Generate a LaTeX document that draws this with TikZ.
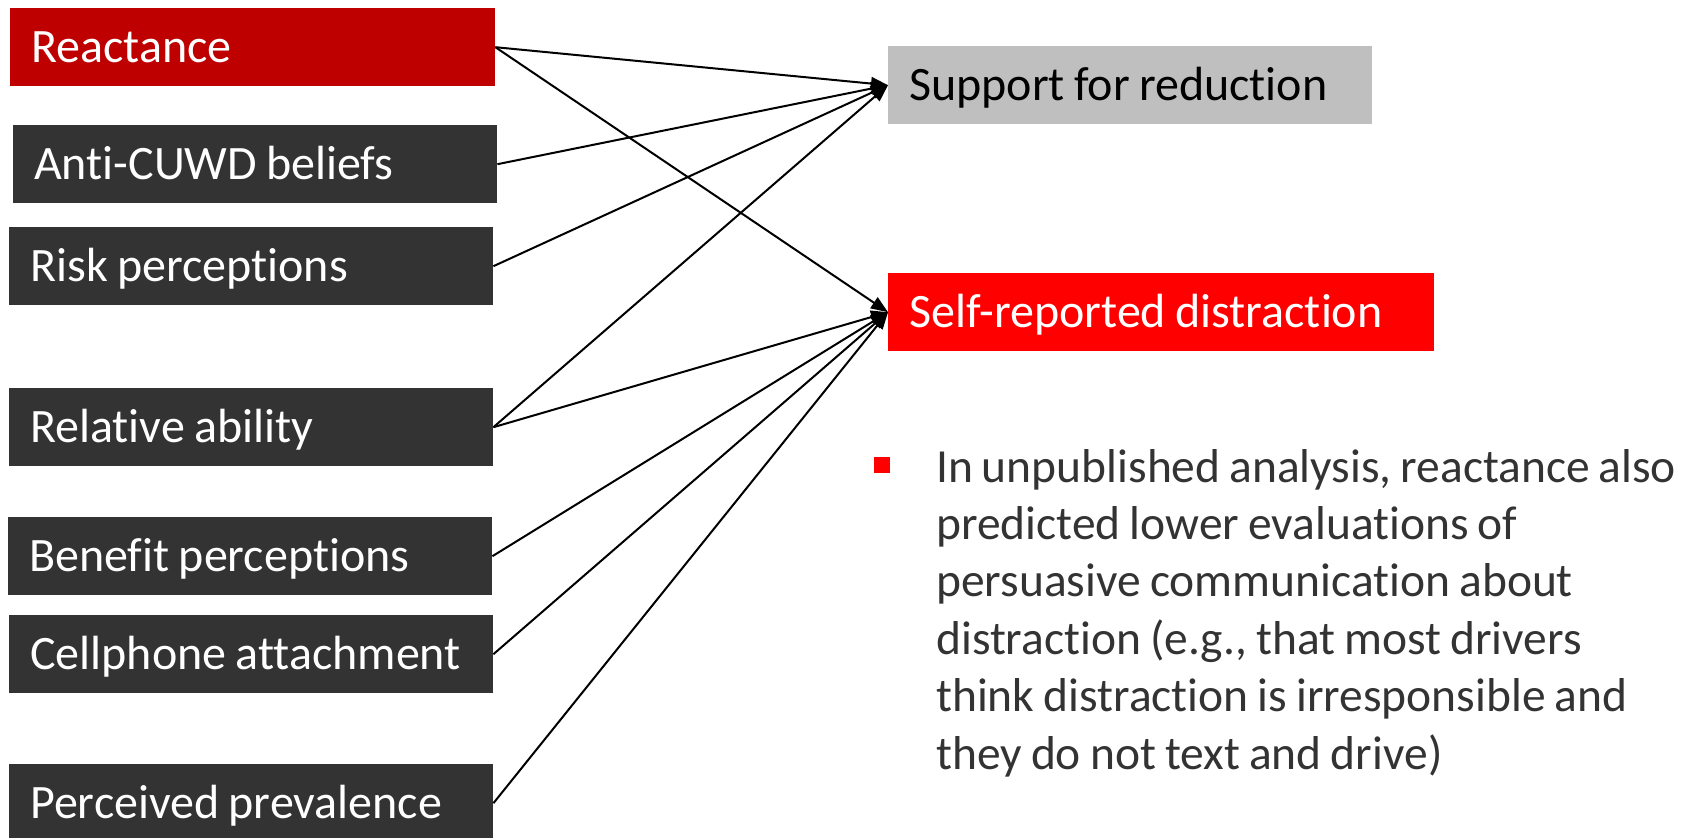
\documentclass[tikz,border=0pt]{standalone}
\usepackage{fontspec}
\setmainfont[Ligatures={NoCommon}, WordSpace=0.85]{Carlito}
\usetikzlibrary{arrows.meta}
\definecolor{reactred}{HTML}{BE0000}
\definecolor{darkbox}{HTML}{333333}
\definecolor{greybox}{HTML}{BFBFBF}
\definecolor{brightred}{HTML}{FF0000}
\definecolor{bodytext}{HTML}{333333}
\newcommand{\lblbox}[2]{\makebox[#1][l]{#2}}
\tikzset{
  lbox/.style={anchor=north west, inner xsep=21pt, inner ysep=0pt, minimum height=78pt,
    text height=31pt, text depth=0pt, font=\fontsize{48}{52}\selectfont},
  darkb/.style={lbox, fill=darkbox, text=white},
  link/.style={draw=black, line width=2pt, -{Triangle[length=17pt,width=13pt]}}
}
\begin{document}
\begin{tikzpicture}[x=1pt,y=-1pt]
\useasboundingbox (0,0) rectangle (1682,838);
\node (react) [lbox, fill=reactred, text=white] at (10,8) {\lblbox{443pt}{Reactance}};
\node (anti) [darkb] at (13,125) {\lblbox{442pt}{Anti-CUWD beliefs}};
\node (risk) [darkb] at (9,227) {\lblbox{442pt}{Risk perceptions}};
\node (rel) [darkb] at (9,388) {\lblbox{442pt}{Relative ability}};
\node (ben) [darkb] at (8,517) {\lblbox{442pt}{Benefit perceptions}};
\node (cell) [darkb] at (9,615) {\lblbox{442pt}{Cellphone attachment}};
\node (prev) [darkb] at (9,764) {\lblbox{442pt}{Perceived prevalence}};
\node (supp) [lbox, fill=greybox, text=black] at (888,46) {\lblbox{442pt}{Support for reduction}};
\node (self) [lbox, fill=brightred, text=white] at (888,273) {\lblbox{504pt}{Self-reported distraction}};
\node (bullet) [fill=brightred, minimum size=16pt, inner sep=0pt, anchor=north west] at (874,457) {};
\node (body) [anchor=base west, inner sep=0pt, text=bodytext,
  font=\fontsize{47.5}{57.4}\selectfont] at (936,482)
  {\parbox[t]{740pt}{\raggedright
   In unpublished analysis, reactance also\\
   predicted lower evaluations of\\
   persuasive communication about\\
   distraction (e.g., that most drivers\\
   think distraction is irresponsible and\\
   they do not text and drive)}};
\draw[link] (react.east) -- (supp.west);
\draw[link] (react.east) -- (self.west);
\draw[link] (anti.east) -- (supp.west);
\draw[link] (risk.east) -- (supp.west);
\draw[link] (rel.east) -- (supp.west);
\draw[link] (rel.east) -- (self.west);
\draw[link] (ben.east) -- (self.west);
\draw[link] (cell.east) -- (self.west);
\draw[link] (prev.east) -- (self.west);
\end{tikzpicture}
\end{document}
